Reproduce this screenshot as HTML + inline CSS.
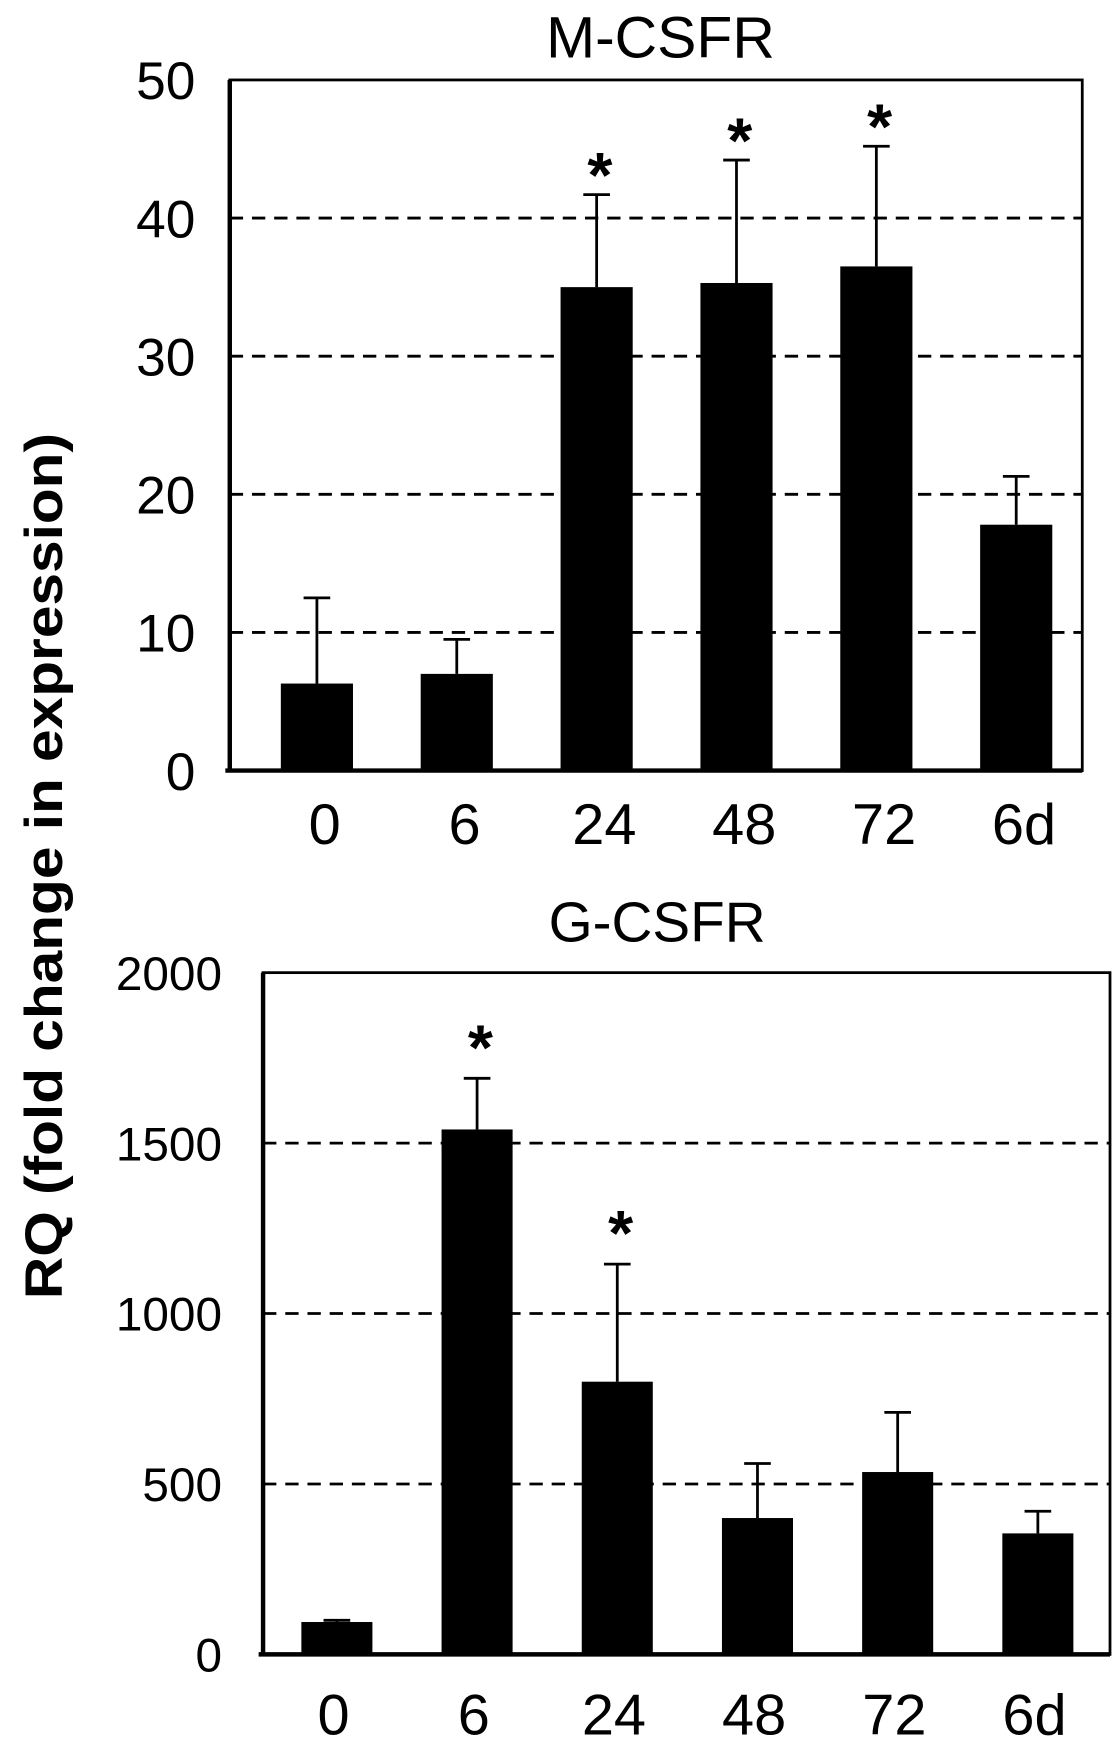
<!DOCTYPE html>
<html><head><meta charset="utf-8"><style>
html,body{margin:0;padding:0;background:#fff}
svg{display:block}
text{font-family:"Liberation Sans",sans-serif;fill:#000}
</style></head><body>
<svg id="chart" width="1120" height="1741" viewBox="0 0 1009 1568" preserveAspectRatio="none" xmlns="http://www.w3.org/2000/svg"></svg>
<script>
const categories = ["0","6","24","48","72","6d"];
const mValues = [6.3, 7.0, 35.0, 35.3, 36.5, 17.8];
const mErrors = [12.5, 9.5, 41.7, 44.2, 45.2, 21.3];
const mStars = [false,false,true,true,true,false];
const mTicks = [0,10,20,30,40,50];
const gValues = [95, 1540, 800, 400, 535, 355];
const gErrors = [100, 1690, 1145, 560, 710, 420];
const gStars = [false,true,true,false,false,false];
const gTicks = [0,500,1000,1500,2000];

const svg = document.getElementById('chart');
const NS = 'http://www.w3.org/2000/svg';
function mk(tag, attrs, parent){
  const e = document.createElementNS(NS, tag);
  for (const k in attrs) e.setAttribute(k, attrs[k]);
  (parent||svg).appendChild(e);
  return e;
}
function panel(cfg){
  const g = mk('g', {});
  
  
  const y = v => cfg.bottom - v / cfg.max * (cfg.bottom - cfg.top);
  const x = i => cfg.first + cfg.bw * i;
  cfg.ticks.forEach(t => {
    if (t > 0 && t < cfg.max) {
      const l = mk('line', {x1:cfg.left, x2:cfg.right, y1:y(t), y2:y(t), stroke:'#000', 'stroke-width':2.5, 'stroke-dasharray':'12,8'}, g);
      
      
    }
    const tx = mk('text', {x:cfg.tickX, y:y(t) + cfg.tickSize*0.36, 'text-anchor':'end', 'font-size':cfg.tickSize}, g);
    tx.textContent = t;
    
    
  });
  categories.forEach((c, i) => {
    const cx = x(i), w = cfg.barW;
    const el = mk('line', {x1:cx, x2:cx, y1:y(cfg.values[i]), y2:y(cfg.errors[i]), stroke:'#000', 'stroke-width':2.5}, g);
    
    
    const ec = mk('line', {x1:cx - 12, x2:cx + 12, y1:y(cfg.errors[i]), y2:y(cfg.errors[i]), stroke:'#000', 'stroke-width':2.5}, g);
    
    
    const r = mk('rect', {x:cx - w/2, y:y(cfg.values[i]), width:w, height:cfg.bottom - y(cfg.values[i]), fill:'#000'}, g);
    
    
    if (cfg.stars[i]) {
      const s = mk('text', {x:cx + 3, y:y(cfg.errors[i]) + cfg.starOff, 'text-anchor':'middle', 'font-size':58, 'font-weight':'bold'}, g);
      s.textContent = '*';
      
      
    }
    const lx = mk('text', {x:cx + cfg.labelOff, y:cfg.labelY, 'text-anchor':'middle', 'font-size':cfg.labelSize}, g);
    lx.textContent = c;
    
    
  });
  const box = mk('rect', {x:cfg.left, y:cfg.top, width:cfg.right - cfg.left, height:cfg.bottom - cfg.top, fill:'none', stroke:'#000', 'stroke-width':2.5}, g);
  
  
  const ax = mk('line', {x1:cfg.left - 4, x2:cfg.right, y1:cfg.bottom, y2:cfg.bottom, stroke:'#000', 'stroke-width':4}, g);
  
  
  const ay = mk('line', {x1:cfg.left, x2:cfg.left, y1:cfg.top, y2:cfg.bottom, stroke:'#000', 'stroke-width':4}, g);
  
  
  const t = mk('text', {x:cfg.titleX, y:cfg.titleY, 'text-anchor':'middle', 'font-size':cfg.titleSize, 'font-family':'DejaVu Sans'}, g);
  t.textContent = cfg.title;
  
  
}
panel({name:'m-csfr-panel', title:'M-CSFR', left:207, right:975, top:72, bottom:694, max:50, ticks:mTicks, values:mValues, errors:mErrors, stars:mStars, tickX:176, tickSize:48, barW:65, first:285.5, bw:126, starOff:2, labelOff:7, labelY:760, labelSize:52, titleX:595, titleY:52, titleSize:53});
panel({name:'g-csfr-panel', title:'G-CSFR', left:237, right:1000, top:876, bottom:1490, max:2000, ticks:gTicks, values:gValues, errors:gErrors, stars:gStars, tickX:200, tickSize:43, barW:64, first:303.5, bw:126.3, starOff:-8, labelOff:-3, labelY:1562, labelSize:52, titleX:592, titleY:848, titleSize:51});
const yt = mk('text', {x:0, y:0, 'text-anchor':'middle', 'font-size':48, 'font-weight':'bold', textLength:780, lengthAdjust:'spacingAndGlyphs', transform:'translate(56,780) rotate(-90)'});
yt.textContent = 'RQ (fold change in expression)';


</script>
</body></html>
